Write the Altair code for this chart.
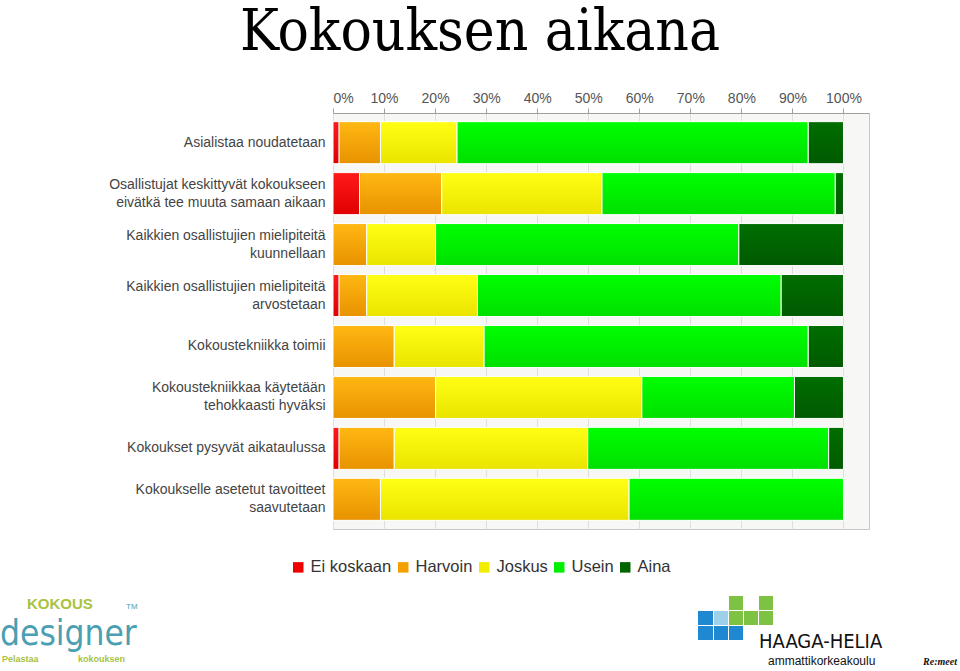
import altair as alt
import pandas as pd

categories = [
    "Asialistaa noudatetaan",
    "Osallistujat keskittyvät kokoukseen\neivätkä tee muuta samaan aikaan",
    "Kaikkien osallistujien mielipiteitä\nkuunnellaan",
    "Kaikkien osallistujien mielipiteitä\narvostetaan",
    "Kokoustekniikka toimii",
    "Kokoustekniikkaa käytetään\ntehokkaasti hyväksi",
    "Kokoukset pysyvät aikataulussa",
    "Kokoukselle asetetut tavoitteet\nsaavutetaan",
]
series = ["Ei koskaan", "Harvoin", "Joskus", "Usein", "Aina"]
ei_koskaan = [1.2, 5.2, 0.0, 1.2, 0.0, 0.0, 1.2, 0.0]
harvoin = [8.1, 16.1, 6.6, 5.4, 12.0, 20.1, 10.8, 9.3]
joskus = [15.0, 31.4, 13.5, 21.7, 17.6, 40.4, 37.9, 48.7]
usein = [68.8, 45.7, 59.4, 59.5, 63.5, 29.9, 47.2, 42.0]
aina = [6.9, 1.6, 20.5, 12.2, 6.9, 9.6, 2.9, 0.0]
tick_values = [0, 10, 20, 30, 40, 50, 60, 70, 80, 90, 100]

flat_colors = ["#ee0000", "#f2a000", "#f2ee00", "#00ee00", "#006400"]
grad_colors = [
    ("#ff1a1a", "#e00000"),
    ("#ffb812", "#e89200"),
    ("#ffff14", "#eae400"),
    ("#00ff00", "#00e000"),
    ("#006e00", "#005a00"),
]

rows = []
for s_i, (name, vals) in enumerate(zip(series, [ei_koskaan, harvoin, joskus, usein, aina])):
    for c, v in zip(categories, vals):
        rows.append({"category": c, "series": name, "order": s_i, "value": v})
df = pd.DataFrame(rows)

FONT = "Liberation Sans"

base = (
    alt.Chart(df)
    .transform_stack(
        stack="value",
        groupby=["category"],
        as_=["v0", "v1"],
        sort=[alt.SortField("order", order="ascending")],
    )
    .transform_filter("datum.value > 0")
    .encode(
        x=alt.X(
            "v0:Q",
            scale=alt.Scale(domain=[0, 105], nice=False, zero=True),
            axis=alt.Axis(
                orient="top",
                values=tick_values,
                labelExpr="datum.value + '%'",
                title=None,
                grid=True,
                gridColor="#dedede",
                domainColor="#a0a0a0",
                tickColor="#a0a0a0",
                tickSize=5,
                labelFont=FONT,
                labelFontSize=14,
                labelColor="#555555",
                labelPadding=3,
            ),
        ),
        x2="v1:Q",
        y=alt.Y(
            "category:N",
            sort=categories,
            scale=alt.Scale(paddingInner=0.175, paddingOuter=0.17),
            axis=alt.Axis(
                title=None,
                ticks=False,
                domain=False,
                labelExpr="split(datum.label, '\\n')",
                labelBaseline=alt.condition(
                    "indexof(datum.value, '\\n') >= 0",
                    alt.value("line-bottom"),
                    alt.value("middle"),
                ),
                labelFont=FONT,
                labelFontSize=14,
                labelColor="#444444",
                labelLineHeight=18,
                labelPadding=8,
                labelLimit=400,
            ),
        ),
    )
)

color_layer = base.mark_bar(stroke="white", strokeWidth=1).encode(
    color=alt.Color(
        "series:N",
        scale=alt.Scale(domain=series, range=flat_colors),
        sort=series,
        legend=alt.Legend(
            title=None,
            orient="none",
            direction="horizontal",
            legendX=-43,
            legendY=446,
            symbolType="square",
            symbolSize=110,
            symbolStrokeWidth=0,
            labelFont=FONT,
            labelFontSize=16.5,
            labelColor="#333333",
            labelOffset=4,
            columnPadding=3,
        ),
    )
)

layers = [color_layer]
for name, (top, bottom) in zip(series, grad_colors):
    layers.append(
        base.transform_filter(alt.datum.series == name).mark_bar(
            stroke="white",
            strokeWidth=1,
            fill=alt.Gradient(
                gradient="linear",
                stops=[
                    alt.GradientStop(color=top, offset=0),
                    alt.GradientStop(color=bottom, offset=1),
                ],
                x1=0, x2=0, y1=0, y2=1,
            ),
        )
    )

# decorative logos (text approximations), positions relative to plot origin (333, 113)
one = alt.Data(values=[{}])
OX, OY = 333, 113


def deco_text(text, x, y, size, color, font=FONT, weight="normal", align="left", style="normal"):
    return alt.Chart(one).mark_text(
        text=text, font=font, fontSize=size, color=color, fontWeight=weight,
        align=align, baseline="alphabetic", fontStyle=style,
    ).encode(x=alt.value(x - OX), y=alt.value(y - OY))


def deco_rect(x, y, w, h, color):
    return alt.Chart(one).mark_rect(color=color).encode(
        x=alt.value(x - OX), x2=alt.value(x + w - OX),
        y=alt.value(y - OY), y2=alt.value(y + h - OY),
    )


decos = [
    deco_text("KOKOUS", 27, 609, 15, "#a9c23f", weight="bold"),
    deco_text("TM", 126, 609, 8, "#4a9fb2"),
    deco_text("designer", 0, 645, 35, "#4a9fb2", font="DejaVu Sans Condensed"),
    deco_text("Pelastaa", 2, 662, 9, "#a9c23f", weight="bold"),
    deco_text("kokouksen", 78, 662, 9, "#a9c23f", weight="bold"),
    deco_text("HAAGA-HELIA", 759, 648, 20, "#111111", font="DejaVu Sans Condensed"),
    deco_text("ammattikorkeakoulu", 768, 665, 12, "#111111"),
    deco_text("Re:meet", 940, 665, 10, "#111111", font="Liberation Serif", weight="bold", align="center", style="italic"),
    deco_rect(698, 611, 15, 14, "#1e88d0"),
    deco_rect(698, 626, 15, 14, "#1e88d0"),
    deco_rect(714, 626, 14, 14, "#1e88d0"),
    deco_rect(714, 611, 14, 14, "#9ed0ea"),
    deco_rect(729, 596, 14, 14, "#7dc242"),
    deco_rect(729, 611, 14, 14, "#7dc242"),
    deco_rect(744, 611, 14, 14, "#7dc242"),
    deco_rect(759, 596, 14, 14, "#7dc242"),
    deco_rect(759, 611, 14, 14, "#7dc242"),
    deco_rect(729, 626, 14, 14, "#1e88d0"),
]

chart = (
    alt.layer(*layers, *decos)
    .properties(
        width=536,
        height=416,
        autosize=alt.AutoSizeParams(type="none"),
        padding={"left": OX, "top": OY, "right": 960 - OX - 536, "bottom": 671 - OY - 416},
        title=alt.TitleParams(
            "Kokouksen aikana",
            font="DejaVu Serif Condensed",
            fontSize=58,
            fontWeight="normal",
            color="#000000",
            anchor="middle",
            dx=-121,
            offset=29,
        ),
        background="white",
    )
    .configure_view(fill="#f7f7f5", stroke="#c6c6c6", strokeWidth=1)
)

chart.save("out.html", embed_options={"renderer": "svg", "actions": False})
